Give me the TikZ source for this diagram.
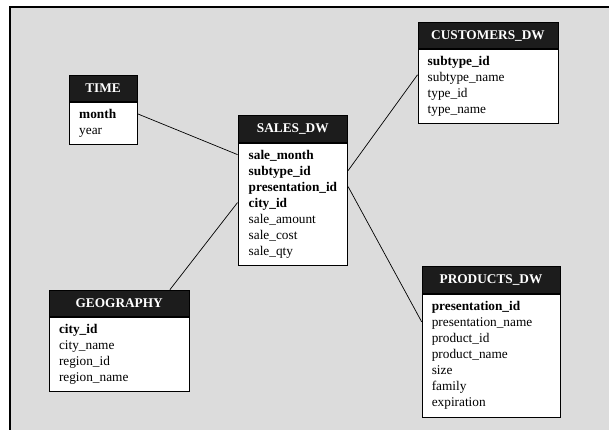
\documentclass[tikz,border=0pt]{standalone}
\usepackage{fontspec}
\setmainfont{Liberation Serif}
\newcommand\tabfont{\fontsize{13.3}{16}\selectfont}
\definecolor{panel}{HTML}{DCDCDC}
\definecolor{headfill}{HTML}{1C1C1C}
\begin{document}
\begin{tikzpicture}[x=1pt,y=-1pt,
  font=\tabfont,
  thead/.style={draw=black, line width=0.8pt, fill=headfill, text=white,
    font=\tabfont\bfseries, anchor=north west, inner sep=0pt,
    minimum width=#1, minimum height=26.8pt},
  tbody/.style={draw=black, line width=0.8pt, fill=white, anchor=north west,
    inner sep=0pt, minimum width=#1},
  row/.style={anchor=base west, inner sep=0pt, text height=12pt, text depth=3pt},
  link/.style={draw=black, line width=0.7pt}]
\useasboundingbox (0,0) rectangle (609,430);
% grey panel with its top and left rule
\fill[panel] (10,7) rectangle (609,430);
\draw[line width=1.2pt] (10,430) -- (10,7) -- (609,7);

% ---- TIME
\node[thead=68.2pt] (th) at (68.5,74.7) {TIME};
\node[tbody=68.2pt, minimum height=41.7pt] (tb) at (th.south west) {};
\foreach \t [count=\i] in {\textbf{month}, year}
  \node[row] (t\i) at ([shift={(10.5,16*\i)}]tb.north west) {\t};

% ---- SALES_DW
\node[thead=109.8pt] (sh) at (237.5,115.5) {SALES\_DW};
\node[tbody=109.8pt, minimum height=121.7pt] (sb) at (sh.south west) {};
\foreach \t [count=\i] in {\textbf{sale\_month}, \textbf{subtype\_id},
    \textbf{presentation\_id}, \textbf{city\_id}, sale\_amount, sale\_cost, sale\_qty}
  \node[row] (s\i) at ([shift={(11,16*\i)}]sb.north west) {\t};

% ---- CUSTOMERS_DW
\node[thead=140.2pt, minimum height=26pt] (ch) at (417.5,22.5) {CUSTOMERS\_DW};
\node[tbody=140.2pt, minimum height=73.9pt] (cb) at (ch.south west) {};
\foreach \t [count=\i] in {\textbf{subtype\_id}, subtype\_name, type\_id, type\_name}
  \node[row] (c\i) at ([shift={(10,16*\i)}]cb.north west) {\t};

% ---- GEOGRAPHY
\node[thead=140pt, minimum height=26.6pt] (gh) at (48.8,289.7) {GEOGRAPHY};
\node[tbody=140pt, minimum height=74.2pt] (gb) at (gh.south west) {};
\foreach \t [count=\i] in {\textbf{city\_id}, city\_name, region\_id, region\_name}
  \node[row] (g\i) at ([shift={(10,16*\i)}]gb.north west) {\t};

% ---- PRODUCTS_DW
\node[thead=138pt, minimum height=27pt] (ph) at (421.6,266.4) {PRODUCTS\_DW};
\node[tbody=138pt, minimum height=122.3pt] (pb) at (ph.south west) {};
\foreach \t [count=\i] in {\textbf{presentation\_id}, presentation\_name, product\_id,
    product\_name, size, family, expiration}
  \node[row] (p\i) at ([shift={(10,16*\i)}]pb.north west) {\t};

% ---- relationships
\draw[link] (t1 -| tb.east) -- (s1 -| sb.west);
\draw[link] (s2 -| sb.east) -- ([yshift=2pt]c2 -| cb.west);
\draw[link] (s3 -| sb.east) -- (p2 -| pb.west);
\draw[link] (s4 -| sb.west) -- ([xshift=-19.7pt]gh.north east);
\end{tikzpicture}
\end{document}
